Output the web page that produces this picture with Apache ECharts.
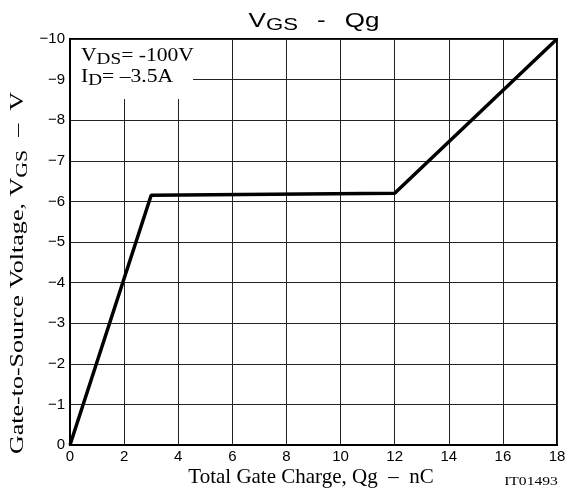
<!DOCTYPE html>
<html>
<head>
<meta charset="utf-8">
<script src="https://cdn.jsdelivr.net/npm/echarts@6/dist/echarts.min.js"></script>
<style>
  html, body {margin: 0; padding: 0; background: #fff;}
  #chart {width: 571px; height: 491px;}
</style>
</head>
<body>
<div id="chart"></div>
<script>
// gate charge curve
const qg = [0, 3, 12, 18];
const vgs = [0, -6.15, -6.2, -10];
const xTicks = [0, 2, 4, 6, 8, 10, 12, 14, 16, 18];
const yTicks = [0, -1, -2, -3, -4, -5, -6, -7, -8, -9, -10];

const serif = '"Liberation Serif", "DejaVu Serif", serif';
const sans = '"Liberation Sans", Arial, sans-serif';
const minus = s => String(s).replace('-', '\u2212');

// main text + lowered subscript
const sub = (family, size, subSize, lh) => ({
  v: {fontFamily: family, fontSize: size, fill: '#000', lineHeight: lh, verticalAlign: 'middle'},
  s: {fontFamily: family, fontSize: subSize, fill: '#000', lineHeight: lh, verticalAlign: 'bottom'}
});

const myChart = echarts.init(document.getElementById('chart'));
myChart.setOption({
  animation: false,
  backgroundColor: '#fff',
  grid: {
    left: 70,
    right: 14,
    top: 39,
    bottom: 46,
    show: true,
    borderColor: '#000',
    borderWidth: 2,
    outerBoundsMode: 'none'
  },
  xAxis: {
    type: 'value',
    min: 0,
    max: 18,
    interval: 2,
    axisLine: {show: true, lineStyle: {color: '#000', width: 2}},
    axisTick: {show: false},
    axisLabel: {
      fontFamily: sans, fontSize: 15, color: '#000', margin: 4,
      formatter: v => xTicks.includes(v) ? String(v) : ''
    },
    splitLine: {show: true, lineStyle: {color: '#222', width: 1}}
  },
  yAxis: {
    type: 'value',
    min: -10,
    max: 0,
    interval: 1,
    inverse: true,
    axisLine: {show: true, lineStyle: {color: '#000', width: 2}},
    axisTick: {show: false},
    axisLabel: {
      fontFamily: sans, fontSize: 15, color: '#000', margin: 5,
      formatter: v => yTicks.includes(v) ? minus(v) : ''
    },
    splitLine: {show: true, lineStyle: {color: '#222', width: 1}}
  },
  graphic: [
    // title
    {
      type: 'text',
      x: 314,
      y: 21,
      scaleX: 1.3,
      style: {
        text: '{v|V}{s|GS}{d|-}{v|Qg}',
        align: 'center',
        verticalAlign: 'middle',
        rich: Object.assign(sub(sans, 20, 17, 26), {
          d: {fontFamily: sans, fontSize: 20, fill: '#000', lineHeight: 26, verticalAlign: 'middle', width: 36, align: 'center'}
        })
      }
    },
    // y axis name
    {
      type: 'text',
      x: 18,
      y: 273,
      rotation: Math.PI / 2,
      scaleX: 1.37,
      style: {
        text: '{v|Gate-to-Source Voltage, V}{s|GS}{v|  \u2013  V}',
        align: 'center',
        verticalAlign: 'middle',
        rich: sub(serif, 19, 16, 26)
      }
    },
    // x axis name
    {
      type: 'text',
      x: 311,
      y: 477,
      style: {
        text: 'Total Gate Charge, Qg  \u2013  nC',
        align: 'center',
        verticalAlign: 'middle',
        fontFamily: serif, fontSize: 21, fill: '#000'
      }
    },
    // conditions box
    {
      type: 'rect',
      x: 71,
      y: 40,
      shape: {width: 122, height: 59},
      style: {fill: '#fff'},
      z: 10
    },
    {
      type: 'text',
      x: 81,
      y: 56,
      scaleX: 1.2,
      z: 11,
      style: {
        text: '{v|V}{s|DS}{v|= -100V}',
        verticalAlign: 'middle',
        rich: sub(serif, 18, 16, 24)
      }
    },
    {
      type: 'text',
      x: 81,
      y: 77,
      scaleX: 1.2,
      z: 11,
      style: {
        text: '{v|I}{s|D}{v|= \u20133.5A}',
        verticalAlign: 'middle',
        rich: sub(serif, 18, 16, 24)
      }
    },
    {
      type: 'text',
      x: 531,
      y: 482,
      scaleX: 1.2,
      style: {
        text: 'IT01493',
        align: 'center',
        verticalAlign: 'middle',
        fontFamily: serif, fontSize: 13, fill: '#000'
      }
    }
  ],
  series: [{
    type: 'line',
    data: qg.map((x, i) => [x, vgs[i]]),
    symbol: 'none',
    lineStyle: {color: '#000', width: 3.5},
    z: 5
  }]
});
</script>
</body>
</html>
